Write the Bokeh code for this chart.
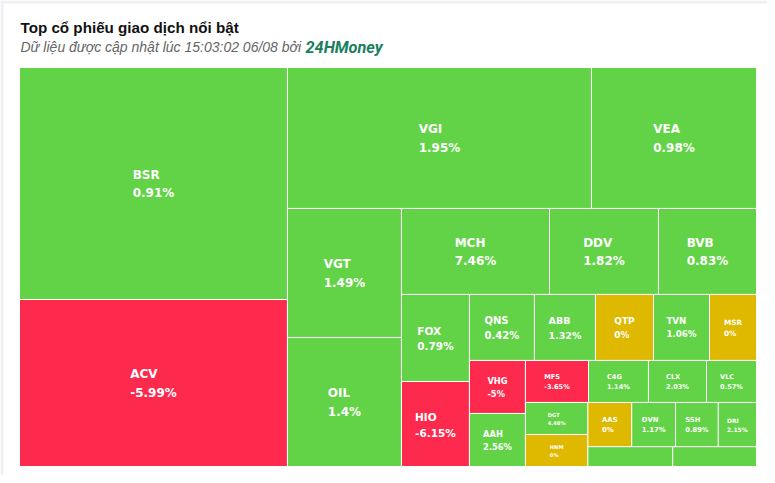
from bokeh.plotting import figure
from bokeh.models import ColumnDataSource, Range1d
from bokeh.core.properties import value, field
from bokeh.embed import file_html
from bokeh.resources import INLINE

# ---------------- data ----------------
title_text = "Top cổ phiếu giao dịch nổi bật"
subtitle_text = "Dữ liệu được cập nhật lúc 15:03:02 06/08 bởi "
source_text = "24HMoney"

tickers = ["BSR", "ACV", "VGI", "VEA", "VGT", "OIL", "MCH", "DDV", "BVB", "FOX",
           "HIO", "QNS", "ABB", "QTP", "TVN", "MSR", "VHG", "AAH", "MFS", "C4G",
           "CLX", "VLC", "DGT", "HNM", "AAS", "DVN", "SSH", "DRI", "", ""]
# relative trading size
sizes = [621.8, 447.6, 428.6, 232.7, 147.1, 147.1, 127.3, 93.7, 84.3, 59.2,
         57.8, 42.9, 40.3, 38.3, 37.0, 31.0, 29.7, 29.7, 26.5, 25.2,
         24.4, 21.0, 20.0, 20.0, 19.4, 19.4, 18.9, 16.9, 16.8, 16.6]
# price change, % (unlabelled cells: unknown)
changes = [0.91, -5.99, 1.95, 0.98, 1.49, 1.4, 7.46, 1.82, 0.83, 0.79,
           -6.15, 0.42, 1.32, 0.0, 1.06, 0.0, -5.0, 2.56, -3.65, 1.14,
           2.03, 0.57, 4.48, 0.0, 0.0, 1.17, 0.89, 2.15, float("nan"), float("nan")]

UP, FLAT, DOWN = "#62d246", "#dfb800", "#fe2a4e"

# ---------------- layout ----------------
FIG_W, FIG_H = 767, 475
PX0, PY0, PW, PH = 19, 67, 737, 399  # treemap area inside the figure


def treemap(vals, x0, y0, w, h):
    scale = w * h / sum(vals)
    areas = [v * scale for v in vals]
    rects = []
    st = {"x": x0, "y": y0, "W": w, "H": h, "vert": True}

    def ratio_of(group, idx):
        tot = sum(group)
        if st["vert"]:
            sw = tot / st["H"]
            eh = group[idx] / sw
            return max(sw / eh, eh / sw)
        sh = tot / st["W"]
        ew = group[idx] / sh
        return max(sh / ew, ew / sh)

    def place(group):
        tot = sum(group)
        if st["vert"]:
            sw = tot / st["H"]
            yy = st["y"]
            for a in group:
                eh = a / sw
                rects.append((st["x"], yy, sw, eh))
                yy += eh
            st["x"] += sw
            st["W"] -= sw
        else:
            sh = tot / st["W"]
            xx = st["x"]
            for a in group:
                ew = a / sh
                rects.append((xx, st["y"], ew, sh))
                xx += ew
            st["y"] += sh
            st["H"] -= sh
        st["vert"] = not st["vert"]

    group = []
    for a in areas:
        if group:
            lR = ratio_of(group, -1)
            nR = ratio_of(group + [a], -2)
            if nR > lR:
                place(group)
                group = []
        group.append(a)
    place(group)
    return rects


rects = treemap(sizes, PX0, PY0, PW, PH)

# DejaVu Sans Bold advance widths (em)
CW = {"0": .696, "1": .696, "2": .696, "3": .696, "4": .696, "5": .696, "6": .696,
      "7": .696, "8": .696, "9": .696, ".": .381, "%": 1.002, "-": .416,
      "A": .774, "B": .762, "C": .734, "D": .830, "E": .683, "F": .683, "G": .821,
      "H": .837, "I": .372, "J": .372, "K": .775, "L": .637, "M": .995, "N": .837,
      "O": .850, "P": .733, "Q": .850, "R": .770, "S": .720, "T": .682, "U": .812,
      "V": .774, "W": 1.103, "X": .771, "Y": .724, "Z": .725}


def tw(s, f):
    return sum(CW.get(c, .7) for c in s) * f


def fmt(v):
    return "{:g}%".format(v)


l, r, t, b, col = [], [], [], [], []
nx, ny, px, py, nt, pt, fs = [], [], [], [], [], [], []
for name, ch, (x, y, w, h) in zip(tickers, changes, rects):
    l.append(x); r.append(x + w); t.append(y); b.append(y + h)
    col.append(DOWN if ch < 0 else (FLAT if ch == 0 else UP))
    if not name or h < 25:
        continue
    m = min(w, h)
    f = min(12.0, 0.15 * m + 0.3)
    ls = 1.52 * f
    pct = fmt(ch)
    bw = max(tw(name, f), tw(pct, f))
    cx, cy = x + w / 2, y + h / 2
    left = cx - bw / 2
    nx.append(left); px.append(left)
    ny.append(cy - ls / 2 + 0.05 * f)
    py.append(cy + ls / 2 + 0.05 * f)
    nt.append(name); pt.append(pct)
    fs.append("%.1fpx" % f)

cells = ColumnDataSource(dict(l=l, r=r, t=t, b=b, c=col))
labels = ColumnDataSource(dict(nx=nx, ny=ny, px=px, py=py, nt=nt, pt=pt, fs=fs))

p = figure(width=FIG_W, height=FIG_H, x_range=Range1d(0, FIG_W), y_range=Range1d(FIG_H, 0),
           output_backend="svg", toolbar_location=None, min_border=0,
           x_axis_location=None, y_axis_location=None)
p.outline_line_color = None
p.grid.visible = False
p.background_fill_color = "white"
p.border_fill_color = "white"

# light page frame at the top and left edges
p.quad(left=[0, 0], right=[FIG_W, 3], top=[0, 0], bottom=[3, FIG_H],
       fill_color="#eef0f3", line_color=None)

p.quad(left="l", right="r", top="t", bottom="b", fill_color="c", line_color="white",
       line_width=1, source=cells)

common = dict(text_font=value("DejaVu Sans"), text_font_style="bold",
              text_font_size=field("fs"), text_color="white",
              text_align="left", text_baseline="alphabetic", source=labels)
p.text(x="nx", y="ny", text="nt", **common)
p.text(x="px", y="py", text="pt", **common)

p.text(x=[20], y=[26.5], text=[title_text], text_font=value("Liberation Sans"),
       text_font_style="bold", text_font_size="15.2px", text_color="#111111",
       text_baseline="alphabetic")
p.text(x=[20], y=[46.5], text=[subtitle_text], text_font=value("Liberation Sans"),
       text_font_style="italic", text_font_size="14px", text_color="#666666",
       text_baseline="alphabetic")
p.text(x=[305], y=[46.5], text=[source_text], text_font=value("Roboto"),
       text_font_style="bold italic", text_font_size="16.3px", text_color="#1a7f5e",
       text_baseline="alphabetic")

open("out.html", "w").write(file_html(p, INLINE))
